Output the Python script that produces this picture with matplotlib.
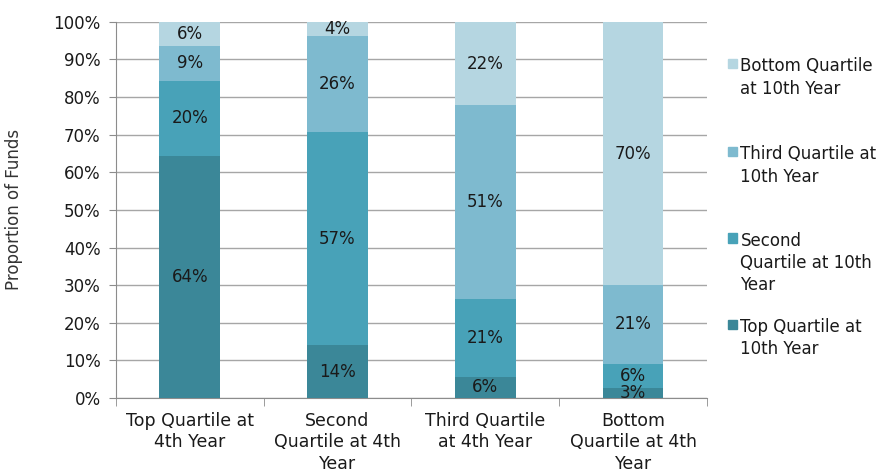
import numpy as np
import matplotlib
matplotlib.use("Agg")
import matplotlib.pyplot as plt
from matplotlib.patches import Rectangle

# categories (4th-year quartile) and the share ending in each 10th-year quartile, in %
CATS = ["Top Quartile at\n4th Year", "Second\nQuartile at 4th\nYear",
        "Third Quartile\nat 4th Year", "Bottom\nQuartile at 4th\nYear"]
TOP_10 = [64.3, 14.0, 5.7, 2.7]
SECOND_10 = [20.1, 56.6, 20.7, 6.4]
THIRD_10 = [9.2, 25.6, 51.4, 20.9]
BOTTOM_10 = [6.4, 3.8, 22.2, 70.0]
SERIES = ["Top Quartile at\n10th Year", "Second\nQuartile at 10th\nYear",
          "Third Quartile at\n10th Year", "Bottom Quartile\nat 10th Year"]
COLORS = ["#3B8798", "#48A2B8", "#7EBACF", "#B5D6E1"]

plt.rcParams["font.family"] = ["DejaVu Sans"]
fig = plt.figure(figsize=(8.91, 4.76), dpi=100)
ax = fig.add_axes([0.130, 0.164, 0.6635, 0.790])

x = np.arange(len(CATS))
bottom = np.zeros(len(CATS))
for vals, col in zip([TOP_10, SECOND_10, THIRD_10, BOTTOM_10], COLORS):
    v = np.array(vals)
    ax.bar(x, v, 0.41, bottom=bottom, color=col, zorder=3)
    for xi, b, h in zip(x, bottom, v):
        ax.text(xi, b + h / 2, f"{h:.0f}%", ha="center", va="center",
                fontsize=12, color="#1a1a1a", zorder=4)
    bottom += v

ax.set_xlim(-0.5, len(CATS) - 0.5)
ax.set_ylim(0, 100)
ax.set_yticks(np.arange(0, 101, 10))
ax.set_yticklabels([f"{t}%" for t in range(0, 101, 10)], fontsize=12, color="#1a1a1a")
ax.set_xticks(x)
ax.set_xticklabels(CATS, fontsize=12.5, color="#1a1a1a", linespacing=1.25)
ax.set_xticks(np.arange(-0.5, len(CATS), 1), minor=True)
ax.tick_params(axis="x", which="major", length=0, pad=10)
ax.tick_params(axis="x", which="minor", length=6, color="#8c8c8c")
ax.tick_params(axis="y", length=5, color="#8c8c8c", pad=6)
ax.grid(axis="y", color="#a6a6a6", lw=1, zorder=0)
for s in ["top", "right"]:
    ax.spines[s].set_visible(False)
for s in ["left", "bottom"]:
    ax.spines[s].set_color("#8c8c8c")
ax.set_ylabel("Proportion of Funds", fontsize=12, color="#333333", labelpad=22)

# legend, drawn by hand so the swatch sits by the first text line
leg_y = [0.866, 0.681, 0.499, 0.318]
for lab, col, yy in zip(SERIES[::-1], COLORS[::-1], leg_y):
    fig.add_artist(Rectangle((0.8165, yy - 0.009), 0.0105, 0.0195,
                             transform=fig.transFigure, color=col))
    fig.text(0.831, yy + 0.0135, lab, fontsize=12, color="#1a1a1a",
             va="top", ha="left", linespacing=1.3)

fig.savefig("out.png", dpi=100)
